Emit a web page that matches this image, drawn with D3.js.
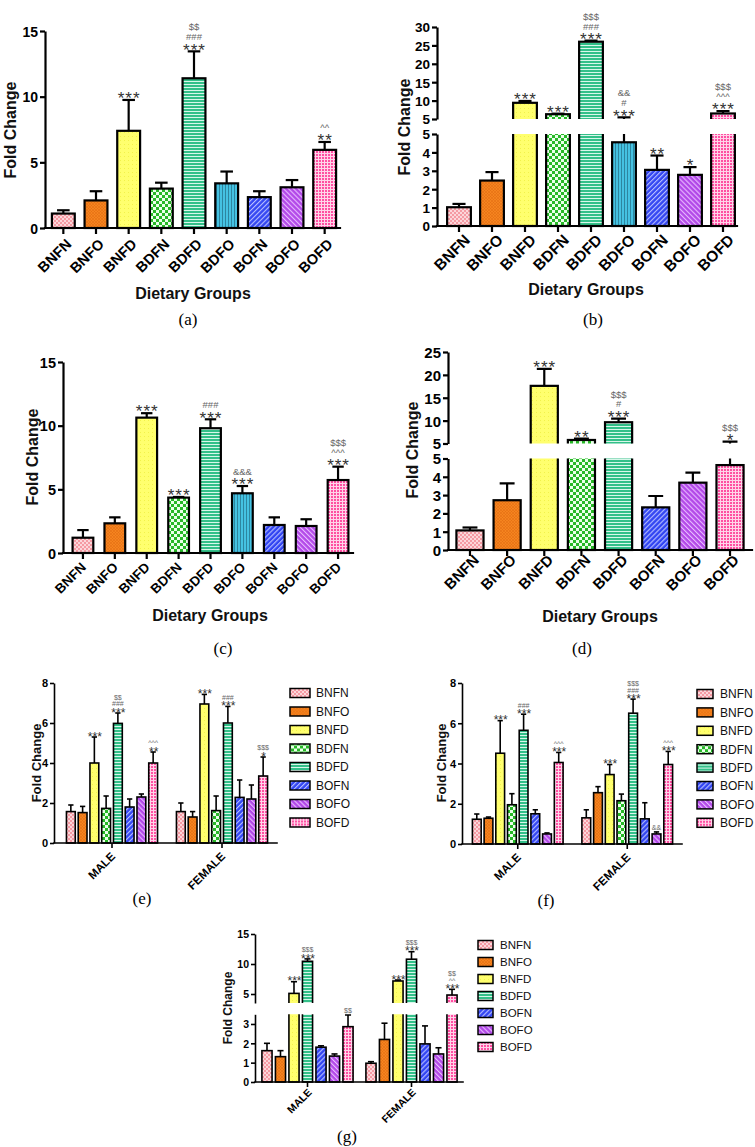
<!DOCTYPE html>
<html><head><meta charset="utf-8">
<script src="https://cdn.jsdelivr.net/npm/d3@7/dist/d3.min.js"></script>
<style>body{margin:0;background:#fff} svg{display:block}</style>
</head><body>
<svg id="fig" width="755" height="1147"></svg>
<script>
// ---------- categories ----------
const groups9 = ["BNFN","BNFO","BNFD","BDFN","BDFD","BDFO","BOFN","BOFO","BOFD"];
const groups8 = ["BNFN","BNFO","BNFD","BDFN","BDFD","BOFN","BOFO","BOFD"];
const groups7 = ["BNFN","BNFO","BNFD","BDFD","BOFN","BOFO","BOFD"];
const sexes = ["MALE","FEMALE"];

// ---------- panel (a) ----------
const aMean = [1.1, 2.1, 7.4, 3.0, 11.4, 3.4, 2.35, 3.1, 5.95];
const aErr  = [0.25, 0.7, 2.35, 0.45, 2.05, 0.9, 0.45, 0.55, 0.6];
const aSig  = [[],[],["***"],[],["***","###","$$"],[],[],[],["**","^^"]];
const aTicks = [0, 5, 10, 15];

// ---------- panel (b) ----------
const bMean = [1.02, 2.47, 9.4, 6.3, 26.0, 4.55, 3.05, 2.78, 6.5];
const bErr  = [0.18, 0.46, 0.5, 0.15, 0.3, 0.9, 0.78, 0.42, 0.65];
const bSig  = [[],[],["***"],["***"],["***","###","$$$"],["***","#","&&"],["**"],["*"],["***","^^^","$$$"]];
const bTicksLow = [0, 1, 2, 3, 4, 5];
const bTicksHigh = [5, 10, 15, 20, 25, 30];

// ---------- panel (c) ----------
const cMean = [1.2, 2.33, 10.63, 4.35, 9.8, 4.69, 2.2, 2.12, 5.73];
const cErr  = [0.6, 0.47, 0.35, 0.05, 0.7, 0.57, 0.6, 0.53, 1.05];
const cSig  = [[],[],["***"],["***"],["***","###"],["***","&&&"],[],[],["***","^^^","$$$"]];
const cTicks = [0, 5, 10, 15];

// ---------- panel (d) ----------
const dMean = [1.07, 2.72, 17.6, 5.77, 9.65, 2.33, 3.68, 4.64];
const dErr  = [0.16, 0.92, 3.7, 0.3, 0.8, 0.62, 0.55, 0.76];
const dSig  = [[],[],["***"],["**"],["***","#","$$$"],[],[],["*","$$$"]];
const dTicksLow = [0, 1, 2, 3, 4, 5];
const dTicksHigh = [5, 10, 15, 20, 25];

// ---------- panel (e) ----------
const eMaleMean   = [1.57, 1.52, 4.0, 1.73, 5.98, 1.8, 2.3, 4.0];
const eMaleErr    = [0.33, 0.31, 1.3, 0.62, 0.52, 0.4, 0.15, 0.55];
const eFemaleMean = [1.57, 1.3, 6.95, 1.62, 6.0, 2.28, 2.2, 3.35];
const eFemaleErr  = [0.43, 0.27, 0.48, 0.73, 0.83, 0.87, 0.7, 0.95];
const eMaleSig    = [[],[],["***"],[],["***","###","$$"],[],[],["**","^^^"]];
const eFemaleSig  = [[],[],["***"],[],["***","###"],[],[],["*","$$$"]];
const eTicks = [0, 2, 4, 6, 8];

// ---------- panel (f) ----------
const fMaleMean   = [1.23, 1.28, 4.51, 1.95, 5.65, 1.5, 0.5, 4.05];
const fMaleErr    = [0.26, 0.06, 1.62, 0.55, 0.8, 0.2, 0.05, 0.5];
const fFemaleMean = [1.3, 2.55, 3.45, 2.15, 6.5, 1.25, 0.5, 3.95];
const fFemaleErr  = [0.4, 0.3, 0.5, 0.33, 0.7, 0.8, 0.1, 0.65];
const fMaleSig    = [[],[],["***"],[],["***","###"],[],[],["***","^^^"]];
const fFemaleSig  = [[],[],["***"],[],["***","###","$$$"],[],["&&"],["***","^^^"]];
const fTicks = [0, 2, 4, 6, 8];

// ---------- panel (g) ----------
const gMaleMean   = [1.62, 1.31, 5.1, 10.45, 1.8, 1.34, 2.86];
const gMaleErr    = [0.38, 0.31, 1.95, 0.4, 0.07, 0.11, 0.61];
const gFemaleMean = [0.97, 2.2, 7.17, 10.8, 1.97, 1.45, 4.83];
const gFemaleErr  = [0.08, 0.84, 0.16, 1.25, 0.93, 0.32, 0.95];
const gMaleSig    = [[],[],["***"],["***","$$$"],[],[],["$$"]];
const gFemaleSig  = [[],[],["***"],["***","$$$"],[],[],["***","^^","$$"]];
const gTicksLow = [0, 1, 2, 3];
const gTicksHigh = [5, 10, 15];

// ---------- styles ----------
const SANS = "'Liberation Sans', Arial, Helvetica, sans-serif";
const SERIF = "'Liberation Serif', 'Times New Roman', serif";
const svg = d3.select("#fig");
const defs = svg.append("defs");

function pat(id, w, h, bg, tr) {
  const p = defs.append("pattern").attr("id", "pat-" + id)
    .attr("patternUnits", "userSpaceOnUse").attr("width", w).attr("height", h);
  if (tr) p.attr("patternTransform", tr);
  p.append("rect").attr("width", w).attr("height", h).attr("fill", bg);
  return p;
}
let p;
p = pat("BNFN", 4, 4, "#f59aa3");
p.append("rect").attr("width", 2).attr("height", 2).attr("fill", "#fcd6da");
p.append("rect").attr("x", 2).attr("y", 2).attr("width", 2).attr("height", 2).attr("fill", "#fcd6da");
p = pat("BNFO", 3, 3, "#f5841f");
p.append("path").attr("d", "M0,0L3,3M3,0L0,3").attr("stroke", "#e06a10").attr("stroke-width", 0.5);
p = pat("BNFD", 4, 4, "#ffff6e");
p.append("rect").attr("width", 1).attr("height", 1).attr("fill", "#f2f24a");
p = pat("BDFN", 6, 6, "#27b827");
p.append("rect").attr("width", 3).attr("height", 3).attr("fill", "#eaffea");
p.append("rect").attr("x", 3).attr("y", 3).attr("width", 3).attr("height", 3).attr("fill", "#eaffea");
p = pat("BDFD", 3, 3, "#33c089");
p.append("rect").attr("width", 3).attr("height", 1).attr("fill", "#d8f7ea");
p = pat("BDFO", 3, 3, "#45c2e2");
p.append("rect").attr("width", 0.9).attr("height", 3).attr("fill", "#2a7f99");
p = pat("BOFN", 3.5, 3.5, "#3245f2", "rotate(45)");
p.append("rect").attr("width", 1.1).attr("height", 3.5).attr("fill", "#b8c0ff");
p = pat("BOFO", 3.5, 3.5, "#b248e8", "rotate(-45)");
p.append("rect").attr("width", 1.1).attr("height", 3.5).attr("fill", "#e8bcff");
p = pat("BOFD", 3, 3, "#ff4fa2");
p.append("rect").attr("width", 3).attr("height", 1).attr("fill", "#ffd4e9");
p.append("rect").attr("width", 1).attr("height", 3).attr("fill", "#ffd4e9");

// ---------- generic panel ----------
function drawPanel(cfg) {
  const g = svg.append("g");
  const segs = cfg.segments.map(s => ({...s, scale: d3.scaleLinear().domain(s.domain).range(s.range)}));
  const yBase = segs[0].scale(0);
  const segOf = v => segs.find((s, i) => v <= s.domain[1] || i === segs.length - 1);

  // build bar items
  let items = [], xTicks = [];
  if (cfg.sexes) {
    const outer = d3.scaleBand().domain(cfg.sexes).range(cfg.xRange)
      .paddingInner(cfg.outerPad).paddingOuter(cfg.outerPad / 2);
    const inner = d3.scaleBand().domain(cfg.series).range([0, outer.bandwidth()])
      .paddingInner(cfg.pad).paddingOuter(cfg.pad / 2);
    cfg.sexes.forEach((sx, j) => {
      xTicks.push({label: sx, x: outer(sx) + outer.bandwidth() / 2});
      cfg.series.forEach((sr, k) => items.push({
        series: sr, x: outer(sx) + inner(sr), w: inner.bandwidth(),
        v: cfg.mean[j][k], e: cfg.err[j][k], sig: cfg.sig[j][k]}));
    });
  } else {
    const x = d3.scaleBand().domain(cfg.cats).range(cfg.xRange)
      .paddingInner(cfg.pad).paddingOuter(cfg.pad / 2);
    items = cfg.cats.map((c, i) => ({series: c, x: x(c), w: x.bandwidth(),
      v: cfg.mean[i], e: cfg.err[i], sig: cfg.sig[i]}));
    xTicks = cfg.cats.map(c => ({label: c, x: x(c) + x.bandwidth() / 2}));
  }

  // bars + error bars, per axis segment (broken axes)
  segs.forEach((s, i) => {
    const id = cfg.id + "-clip" + i;
    const top = i === segs.length - 1 ? s.range[1] - 300 : s.range[1];
    const bottom = i === 0 ? s.range[0] + 10 : s.range[0];
    defs.append("clipPath").attr("id", id).append("rect")
      .attr("x", 0).attr("y", top).attr("width", 755).attr("height", bottom - top);
    const sg = g.append("g").attr("clip-path", `url(#${id})`);
    const withErr = items.filter(d => d.e > 0 && (i === 0 || d.v + d.e > s.domain[0] + 0.05));
    sg.selectAll("line.err").data(withErr).join("line").attr("class", "err")
      .attr("x1", d => d.x + d.w / 2).attr("x2", d => d.x + d.w / 2)
      .attr("y1", d => s.scale(d.v)).attr("y2", d => s.scale(d.v + d.e))
      .attr("stroke", "#000").attr("stroke-width", cfg.sw);
    sg.selectAll("line.cap").data(withErr).join("line").attr("class", "cap")
      .attr("x1", d => d.x + d.w / 2 - d.w * cfg.capFrac / 2)
      .attr("x2", d => d.x + d.w / 2 + d.w * cfg.capFrac / 2)
      .attr("y1", d => s.scale(d.v + d.e)).attr("y2", d => s.scale(d.v + d.e))
      .attr("stroke", "#000").attr("stroke-width", cfg.sw);
    const yb = i === 0 ? s.scale(s.domain[0]) : s.scale(s.domain[0]) + 30;
    sg.selectAll("rect.bar").data(items.filter(d => d.v > s.domain[0])).join("rect").attr("class", "bar")
      .attr("x", d => d.x).attr("width", d => d.w)
      .attr("y", d => s.scale(d.v)).attr("height", d => yb - s.scale(d.v))
      .attr("fill", d => `url(#pat-${d.series})`)
      .attr("stroke", "#000").attr("stroke-width", cfg.sw);
  });

  // y axes
  segs.forEach(s => {
    const ag = g.append("g").attr("transform", `translate(${cfg.yAxisX},0)`)
      .call(d3.axisLeft(s.scale).tickValues(s.ticks).tickFormat(d3.format("d"))
        .tickSize(cfg.tickLen).tickSizeOuter(0).tickPadding(2));
    ag.attr("font-family", SANS).attr("font-size", cfg.tickFont).attr("font-weight", "bold");
    ag.select(".domain").attr("stroke", "#000").attr("stroke-width", cfg.sw);
    ag.selectAll(".tick line").attr("stroke", "#000").attr("stroke-width", cfg.sw);
    ag.selectAll(".tick text").attr("fill", "#000").attr("dy", "0.36em");
  });

  // x axis
  g.append("line").attr("x1", cfg.yAxisX).attr("x2", cfg.xEnd).attr("y1", yBase).attr("y2", yBase)
    .attr("stroke", "#000").attr("stroke-width", cfg.sw).attr("stroke-linecap", "square");
  g.selectAll("line.xt").data(xTicks).join("line").attr("class", "xt")
    .attr("x1", d => d.x).attr("x2", d => d.x).attr("y1", yBase).attr("y2", yBase + cfg.tickLen + 1)
    .attr("stroke", "#000").attr("stroke-width", cfg.sw);
  g.selectAll("text.xl").data(xTicks).join("text").attr("class", "xl")
    .attr("transform", d => `translate(${d.x + cfg.catDx},${cfg.catY}) rotate(-45)`)
    .attr("text-anchor", "end").attr("font-family", SANS).attr("font-weight", "bold")
    .attr("font-size", cfg.catFont).attr("fill", "#000").text(d => d.label);

  // significance marks
  items.forEach(d => {
    if (!d.sig.length) return;
    const top = d.v + d.e;
    let cur = segOf(top).scale(top) - cfg.sigGap;
    d.sig.forEach(t => {
      const star = t.indexOf("*") >= 0;
      const fs = star ? cfg.starFont : cfg.subFont;
      const base = star ? cur + 0.43 * fs : cur;
      g.append("text").attr("x", d.x + d.w / 2 + (star ? 0.5 : 0)).attr("y", base)
        .attr("text-anchor", "middle").attr("font-family", SANS)
        .attr("font-size", fs).attr("letter-spacing", star ? cfg.starSpace : 0)
        .attr("fill", star ? "#333" : "#666").text(t);
      cur = base - 0.73 * fs - cfg.sigLine;
    });
  });

  // titles
  g.append("text").attr("transform", `translate(${cfg.yLabel[0]},${cfg.yLabel[1]}) rotate(-90)`)
    .attr("text-anchor", "middle").attr("dominant-baseline", "central")
    .attr("font-family", SANS).attr("font-weight", "bold").attr("font-size", cfg.yTitleFont)
    .attr("fill", "#111").text("Fold Change");
  if (cfg.xLabel) g.append("text").attr("x", cfg.xLabel[0]).attr("y", cfg.xLabel[1])
    .attr("text-anchor", "middle").attr("font-family", SANS).attr("font-weight", "bold")
    .attr("font-size", 16).attr("fill", "#111").text("Dietary Groups");
  g.append("text").attr("x", cfg.letter[1]).attr("y", cfg.letter[2]).attr("text-anchor", "middle")
    .attr("font-family", SERIF).attr("font-size", 17).attr("fill", "#000").text(cfg.letter[0]);

  // legend
  if (cfg.legend) {
    const L = cfg.legend;
    const lg = g.selectAll("g.lg").data(cfg.series).join("g").attr("class", "lg")
      .attr("transform", (d, i) => `translate(0,${L.y0 + i * L.step})`);
    lg.append("rect").attr("x", L.x).attr("y", -L.h / 2).attr("width", L.w).attr("height", L.h)
      .attr("fill", d => `url(#pat-${d})`).attr("stroke", "#000").attr("stroke-width", 1.5);
    lg.append("text").attr("x", L.tx).attr("y", 0).attr("dy", "0.36em")
      .attr("font-family", SANS).attr("font-size", L.font).attr("fill", "#111").text(d => d);
  }
}

const big = {sw: 2.2, tickLen: 5, capFrac: 0.55, sigGap: 3, sigLine: 3, starFont: 17, subFont: 9.5, starSpace: 1, yTitleFont: 16};
const small = {sw: 1.6, tickLen: 4, capFrac: 0.6, sigGap: 1.5, sigLine: 1.5, starFont: 12, subFont: 7, starSpace: 0, yTitleFont: 13, catFont: 11.5, tickFont: 11};

drawPanel({...big, id: "a", cats: groups9, mean: aMean, err: aErr, sig: aSig,
  yAxisX: 45, xRange: [47, 341], xEnd: 340, pad: 0.3,
  segments: [{domain: [0, 15], range: [228, 31], ticks: aTicks}],
  tickFont: 14, catFont: 14.5, catDx: 9, catY: 245,
  yLabel: [10, 130], xLabel: [193, 299], letter: ["(a)", 188, 325]});

drawPanel({...big, id: "b", cats: groups9, mean: bMean, err: bErr, sig: bSig,
  yAxisX: 437, xRange: [442.5, 739.5], xEnd: 737, pad: 0.28,
  segments: [{domain: [0, 5], range: [226, 134], ticks: bTicksLow},
             {domain: [5, 30], range: [119, 27], ticks: bTicksHigh}],
  tickFont: 13.5, catFont: 15.5, catDx: 12, catY: 241,
  yLabel: [404, 127], xLabel: [586, 295], letter: ["(b)", 593, 325]});

drawPanel({...big, id: "c", cats: groups9, mean: cMean, err: cErr, sig: cSig,
  yAxisX: 63, xRange: [67, 354], xEnd: 353, pad: 0.35,
  segments: [{domain: [0, 15], range: [553, 362], ticks: cTicks}],
  tickFont: 14.5, catFont: 13.5, catDx: 4, catY: 568,
  yLabel: [32, 457], xLabel: [210, 621], letter: ["(c)", 223, 654]});

drawPanel({...big, id: "d", cats: groups8, mean: dMean, err: dErr, sig: dSig,
  yAxisX: 448, xRange: [451.4, 748.6], xEnd: 752, pad: 0.27,
  segments: [{domain: [0, 5], range: [550, 458.5], ticks: dTicksLow},
             {domain: [5, 25], range: [443.5, 352], ticks: dTicksHigh}],
  tickFont: 15, catFont: 15, catDx: 10, catY: 561,
  yLabel: [412, 450], xLabel: [600, 622], letter: ["(d)", 582, 654]});

drawPanel({...small, id: "e", sexes: sexes, series: groups8,
  mean: [eMaleMean, eFemaleMean], err: [eMaleErr, eFemaleErr], sig: [eMaleSig, eFemaleSig],
  yAxisX: 54, xRange: [57, 277], xEnd: 277, pad: 0.25, outerPad: 0.145,
  segments: [{domain: [0, 8], range: [843, 683], ticks: eTicks}],
  catDx: 4, catY: 857,
  yLabel: [36, 763], letter: ["(e)", 142, 904],
  legend: {x: 290, w: 20, h: 9, tx: 316, y0: 693, step: 18.5, font: 12}});

drawPanel({...small, id: "f", sexes: sexes, series: groups8,
  mean: [fMaleMean, fFemaleMean], err: [fMaleErr, fFemaleErr], sig: [fMaleSig, fFemaleSig],
  yAxisX: 462, xRange: [463, 682], xEnd: 682, pad: 0.25, outerPad: 0.145,
  segments: [{domain: [0, 8], range: [844, 683], ticks: fTicks}],
  catDx: 4, catY: 858,
  yLabel: [441, 763], letter: ["(f)", 546, 906],
  legend: {x: 697, w: 16, h: 9, tx: 720, y0: 694, step: 18.4, font: 12}});

drawPanel({...small, id: "g", sexes: sexes, series: groups7,
  mean: [gMaleMean, gFemaleMean], err: [gMaleErr, gFemaleErr], sig: [gMaleSig, gFemaleSig],
  yAxisX: 255, xRange: [255.5, 463.5], xEnd: 463, pad: 0.25, outerPad: 0.091,
  segments: [{domain: [0, 3.5], range: [1082, 1014.3], ticks: gTicksLow},
             {domain: [3.5, 15], range: [1003, 934], ticks: gTicksHigh}],
  tickFont: 10.5, catFont: 10.5, catDx: 5, catY: 1093,
  yLabel: [228, 1008], yTitleFont: 12, letter: ["(g)", 347, 1142],
  legend: {x: 478, w: 15, h: 9, tx: 500, y0: 945, step: 17, font: 11.5}});
</script>
</body></html>
